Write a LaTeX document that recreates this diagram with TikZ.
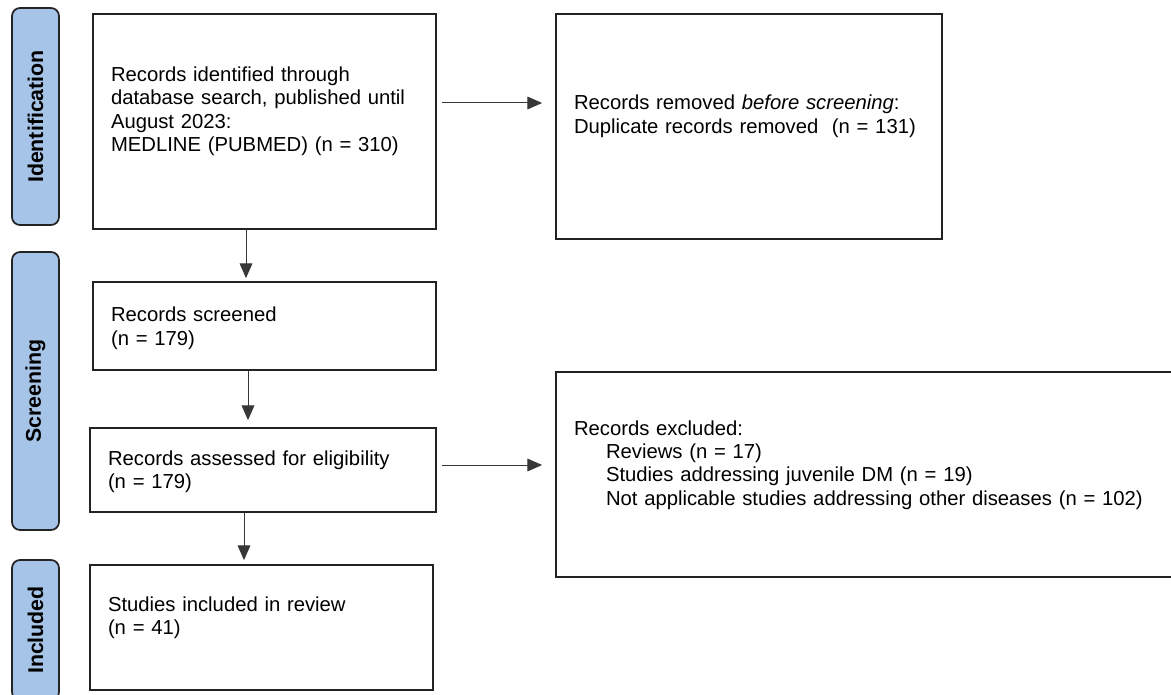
\documentclass[tikz,border=0pt]{standalone}
\usepackage{fontspec}
\setmainfont{Liberation Sans}
\usetikzlibrary{positioning, calc, arrows.meta}
\definecolor{prLabel}{RGB}{166,196,232}
\definecolor{prEdge}{RGB}{35,35,35}
\definecolor{prLine}{RGB}{55,55,55}

\begin{document}
\begin{tikzpicture}[x=0.75pt, y=-0.75pt,
    stage/.style={draw=prEdge, line width=1.3pt, rounded corners=6pt, fill=prLabel, minimum height=35.25pt, rotate=90, font=\bfseries\fontsize{16}{18}\selectfont},
    recbox/.style={draw=prEdge, line width=1.3pt, align=left, inner xsep=13.5pt, text height=11pt, font=\fontsize{15.2}{17.5}\selectfont},
    flow/.style={-{Triangle[length=11pt, width=9.5pt]}, line width=0.75pt, draw=prLine}]
      \useasboundingbox (0,0) rectangle (1171,695);

      \node[stage, minimum width=162.75pt] (sIdent) at (35.5,116.5) {Identification};
      \node[stage, minimum width=208.5pt] (sScreen) at (35.5,391) {Screening};
      \node[stage, minimum width=105pt] (sIncl) at (35.5,630) {Included};

      \node[recbox, text width=230.25pt, minimum height=161.25pt, text depth=70.8pt] (ident) at (264.5,121.5) {Records identified through\\database search, published until\\August 2023:\\MEDLINE (PUBMED) (n = 310)};
      \node[recbox, text width=262.5pt, minimum height=168.75pt, text depth=35.8pt] (dup) at (749,126.5) {Records removed \textit{before screening}:\\Duplicate records removed\ \ (n = 131)};
      \node[recbox, text width=230.25pt, minimum height=66pt, text depth=17.4pt] (screened) at (264.5,326) {Records screened\\(n = 179)};
      \node[recbox, text width=232.5pt, minimum height=63pt, text depth=18.5pt] (assessed) at (263,470) {Records assessed for eligibility\\(n = 179)};
      \node[recbox, text width=441pt, minimum height=153.75pt, text depth=70.2pt] (excluded) at (868,474.5) {Records excluded:\\\hspace*{24pt}Reviews (n = 17)\\\hspace*{24pt}Studies addressing juvenile DM (n = 19)\\\hspace*{24pt}Not applicable studies addressing other diseases (n = 102)};
      \node[recbox, text width=230.25pt, minimum height=93.75pt, text depth=34.8pt] (included) at (261.5,627.5) {Studies included in review\\(n = 41)};

      \draw[flow] ($(ident.east)+(5,-18.5)$) -- ($(dup.west)+(-13,-23.5)$);
      \draw[flow] ($(ident.south)+(-18.5,0)$) -- ($(screened.north)+(-18.5,-3)$);
      \draw[flow] ($(screened.south)+(-16.5,0)$) -- ($(assessed.north)+(-15,-7)$);
      \draw[flow] ($(assessed.south)+(-19,0)$) -- ($(included.north)+(-17.5,-4)$);
      \draw[flow] ($(assessed.east)+(5,-5)$) -- ($(excluded.west)+(-13,-9.5)$);
    \end{tikzpicture}
\end{document}
